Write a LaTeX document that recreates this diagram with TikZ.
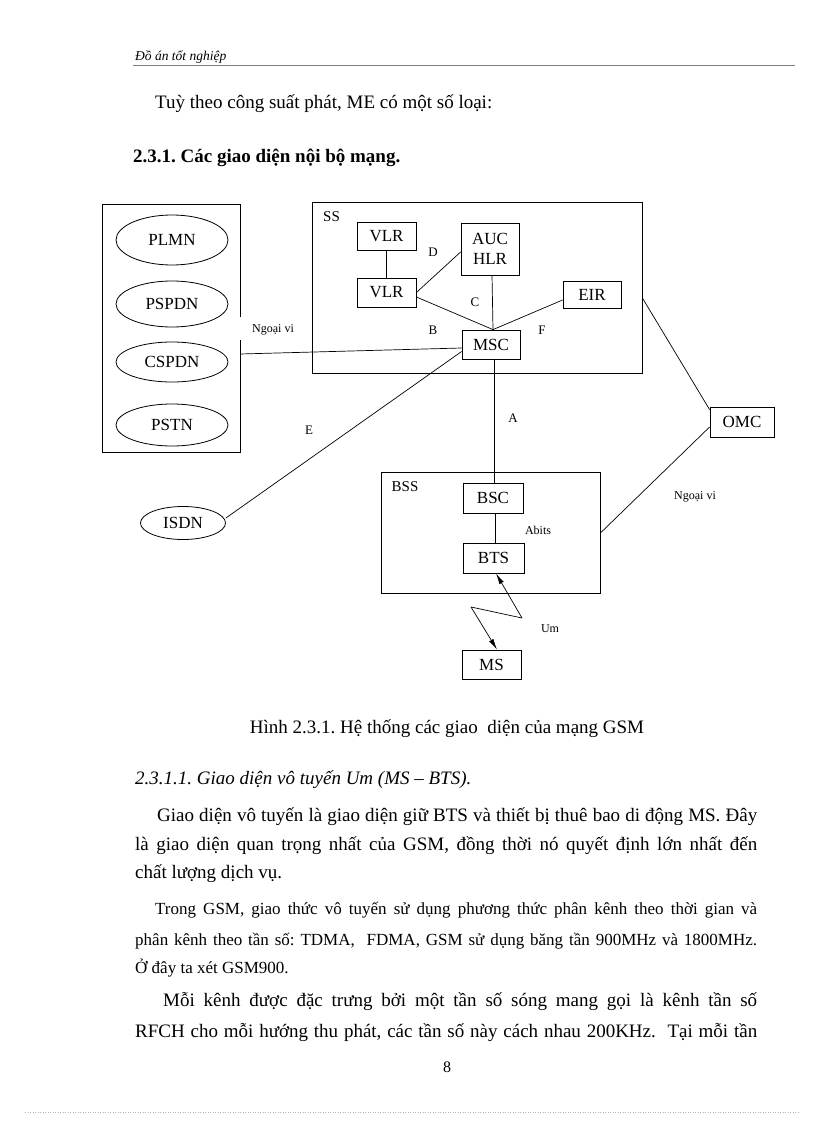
\documentclass[tikz,border=0pt]{standalone}
\usepackage{fontspec}
\setmainfont{Liberation Serif}
\usetikzlibrary{shapes.geometric,arrows.meta}
\frenchspacing
\begin{document}
\begin{tikzpicture}[x=1pt,y=-1pt,
  txt/.style={inner sep=0, anchor=base west, font=\fontsize{19}{22}\selectfont},
  smalltxt/.style={inner sep=0, anchor=base west, font=\fontsize{17}{20}\selectfont},
  box/.style={draw, line width=0.8pt, inner sep=0, align=center, font=\fontsize{17}{19.5}\selectfont},
  ell/.style={ellipse, draw, line width=0.8pt, inner sep=0, minimum width=112pt, font=\fontsize{17}{19}\selectfont},
  grp/.style={draw, line width=0.8pt, inner sep=0},
  lbl/.style={inner sep=0, font=\fontsize{13}{15}\selectfont},
  tiny/.style={inner sep=0, font=\fontsize{12}{14}\selectfont},
  conn/.style={line width=0.7pt},
  arr/.style={line width=0.7pt, -{Latex[length=11pt,width=5pt]}}]
\useasboundingbox (0,0) rectangle (816,1123);
\fill[white] (0,0) rectangle (816,1123);

% header
\node[inner sep=0, anchor=base west, font=\fontsize{13.5}{15}\selectfont\itshape] (hdr) at (135,61) {Đồ án tốt nghiệp};
\coordinate (hl1) at (133,65);
\coordinate (hr1) at (795,65);
\draw[line width=0.6pt, gray] (hl1) -- (hr1);

\node[txt] (p0) at (155,109) {Tuỳ theo công suất phát, ME có một số loại:};
\node[txt, font=\fontsize{19}{22}\selectfont\bfseries] (h1) at (133,163) {2.3.1. Các giao diện nội bộ mạng.};

% ---------- diagram ----------
% left group
\node[minimum width=137pt, minimum height=247pt, inner sep=0] (lbox) at (171.5,328.5) {};
\draw[line width=0.8pt] ([yshift=11.5pt]lbox.east) -- (lbox.north east) -- (lbox.north west) -- (lbox.south west) -- (lbox.south east) -- ([yshift=-11.5pt]lbox.east);
\node[ell, minimum height=50pt] (plmn) at (172,240) {PLMN};
\node[ell, minimum height=46pt] (pspdn) at (172,304) {PSPDN};
\node[ell, minimum height=40pt] (cspdn) at (172,362) {CSPDN};
\node[ell, minimum height=42pt] (pstn) at (172,425) {PSTN};

% SS
\node[grp, minimum width=330pt, minimum height=171pt] (ss) at (477,287.5) {};
\node[lbl, font=\fontsize{15}{17}\selectfont] (sslbl) at (331.5,217) {SS};
\node[box, minimum width=59pt, minimum height=28pt] (vlr1) at (386.5,236) {VLR};
\node[box, minimum width=59pt, minimum height=29pt] (vlr2) at (386.5,292.5) {VLR};
\node[box, minimum width=58pt, minimum height=52pt] (auc) at (490,249) {AUC\\HLR};
\node[box, minimum width=58pt, minimum height=27pt] (eir) at (592,294.5) {EIR};
\node[box, minimum width=58pt, minimum height=29pt] (msc) at (491,344.5) {MSC};

% BSS
\node[grp, minimum width=219pt, minimum height=121pt] (bss) at (490.5,532.5) {};
\node[lbl, font=\fontsize{15}{17}\selectfont] (bsslbl) at (405,487) {BSS};
\node[box, minimum width=60pt, minimum height=30pt] (bsc) at (493,498) {BSC};
\node[box, minimum width=61pt, minimum height=30pt] (bts) at (493.5,558) {BTS};
\node[box, minimum width=59pt, minimum height=29pt] (ms) at (491.5,664.5) {MS};

% others
\node[box, minimum width=64pt, minimum height=30pt] (omc) at (742,422) {OMC};
\node[ell, minimum width=85pt, minimum height=33pt] (isdn) at (183,523) {ISDN};

% connectors
\draw[conn] (vlr1) -- (vlr2);
\draw[conn] (vlr2.east) -- ([yshift=-3pt]auc.west);
\draw[conn] ([yshift=-4.5pt]vlr2.east) -- ([xshift=2pt]msc.north);
\draw[conn] ([xshift=2pt]auc.south) -- ([xshift=2pt]msc.north);
\draw[conn] ([yshift=-5.5pt]eir.west) -- ([xshift=2pt]msc.north);
\draw[conn] ([yshift=-3.5pt]msc.west) -- ([yshift=-25.5pt]lbox.east);
\draw[conn] ([yshift=5pt]isdn.east) -- ([yshift=-7pt]msc.west);
\draw[conn] ([xshift=3pt]msc.south) -- ([xshift=1pt]bsc.north);
\draw[conn] ([xshift=2pt]bsc.south) -- ([xshift=1.5pt]bts.north);
\coordinate (z1) at (522,618);
\coordinate (z2) at (471,607);
\draw[arr] (z1) -- ([xshift=2.5pt]bts.south);
\draw[conn] (z1) -- (z2);
\draw[arr] (z2) -- ([xshift=5.5pt]ms.north);
\draw[conn] ([yshift=-10.5pt]ss.east) -- ([yshift=-3pt]omc.north west);
\draw[conn] ([yshift=-5pt]omc.west) -- ([yshift=-0.5pt]bss.east);

% interface labels
\node[lbl] (ld) at (433,252) {D};
\node[lbl] (lc) at (475,302) {C};
\node[lbl] (lb) at (433,330) {B};
\node[lbl] (lf) at (542,330) {F};
\node[lbl] (le) at (309,430) {E};
\node[lbl] (la) at (513,418) {A};
\node[tiny] (nv1) at (273,330) {Ngoại vi};
\node[tiny] (abits) at (538,530) {Abits};
\node[tiny] (um) at (550,629) {Um};
\node[tiny] (nv2) at (695,497) {Ngoại vi};

% caption and text
\node[inner sep=0, anchor=base, font=\fontsize{19}{22}\selectfont] (cap) at (447,733) {Hình 2.3.1. Hệ thống các giao\ \ diện của mạng GSM};
\node[txt, font=\fontsize{19}{22}\selectfont\itshape] (h2) at (135,784) {2.3.1.1. Giao diện vô tuyến Um (MS – BTS).};
\node[txt] (l1) at (157,821) {\makebox[600pt][s]{Giao diện vô tuyến là giao diện giữ BTS và thiết bị thuê bao di động MS. Đây}};
\node[txt] (l2) at (135,850) {\makebox[622pt][s]{là giao diện quan trọng nhất của GSM, đồng thời nó quyết định lớn nhất đến}};
\node[txt] (l3) at (135,878) {chất lượng dịch vụ.};
\node[smalltxt] (l4) at (155,914) {\makebox[602pt][s]{Trong GSM, giao thức vô tuyến sử dụng phương thức phân kênh theo thời gian và}};
\node[smalltxt] (l5) at (135,945) {\makebox[622pt][s]{phân kênh theo tần số: TDMA,\ \ FDMA, GSM sử dụng băng tần 900MHz và 1800MHz.}};
\node[smalltxt] (l6) at (135,973) {Ở đây ta xét GSM900.};
\node[txt] (l7) at (163,1006) {\makebox[594pt][s]{Mỗi kênh được đặc trưng bởi một tần số sóng mang gọi là kênh tần số}};
\node[txt] (l8) at (135,1037) {\makebox[622pt][s]{RFCH cho mỗi hướng thu phát, các tần số này cách nhau 200KHz.\ \ Tại mỗi tần}};
\node[inner sep=0, anchor=base, font=\fontsize{16}{18}\selectfont] (pg) at (447,1072) {8};
\coordinate (dl) at (25,1112);
\coordinate (dr) at (800,1112);
\draw[gray!60, line width=0.5pt, dotted] (dl) -- (dr);
\end{tikzpicture}
\end{document}
